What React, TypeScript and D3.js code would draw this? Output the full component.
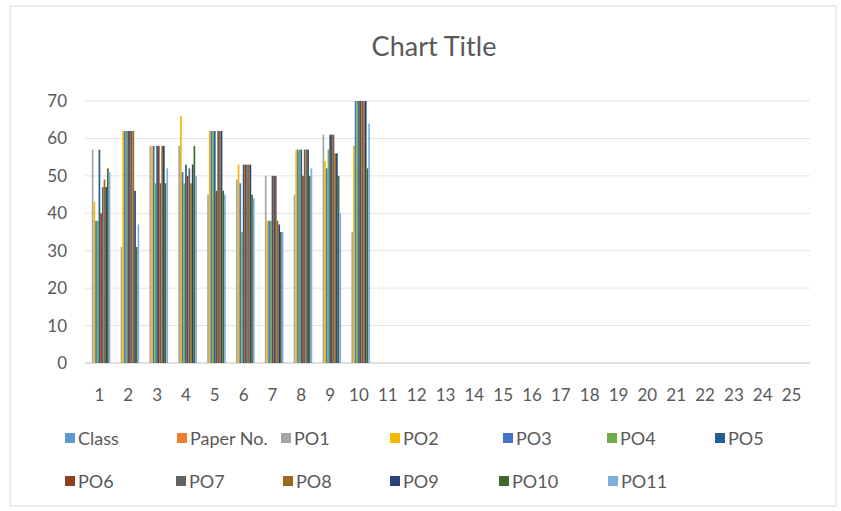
import React from "react";
import * as d3 from "d3";

const categories: string[] = Array.from({ length: 25 }, (_, i) => String(i + 1));
const seriesNames: string[] = ["Class", "Paper No.", "PO1", "PO2", "PO3", "PO4", "PO5", "PO6", "PO7", "PO8", "PO9", "PO10", "PO11"];
const seriesColors: string[] = ["#5b9bd5", "#ed7d31", "#a5a5a5", "#f5b800", "#4472c4", "#70ad47", "#255e91", "#8e3f1e", "#636363", "#9a6a1e", "#264478", "#43682b", "#7cafdd"];

// values for categories 1..10 (rest empty)
const classVals = [0, 0, 0, 0, 0, 0, 0, 0, 0, 0];
const paperVals = [0, 0, 0, 0, 0, 0, 0, 0, 0, 0];
const po1 = [57, 31, 58, 58, 45, 49, 50, 45, 61, 35];
const po2 = [43, 62, 58, 66, 62, 53, 38, 57, 54, 58];
const po3 = [38, 62, 58, 51, 62, 48, 38, 57, 52, 70];
const po4 = [38, 62, 48, 48, 62, 35, 38, 57, 57, 70];
const po5 = [57, 62, 58, 53, 62, 53, 50, 57, 61, 70];
const po6 = [40, 62, 58, 50, 46, 53, 50, 50, 61, 70];
const po7 = [47, 62, 48, 52, 62, 53, 50, 57, 61, 70];
const po8 = [49, 62, 58, 48, 62, 53, 38, 57, 56, 70];
const po9 = [47, 46, 58, 53, 62, 53, 37, 57, 56, 70];
const po10 = [52, 31, 48, 58, 46, 45, 35, 50, 50, 52];
const po11 = [51, 37, 52, 50, 45, 44, 35, 52, 40, 64];
const seriesValues: number[][] = [classVals, paperVals, po1, po2, po3, po4, po5, po6, po7, po8, po9, po10, po11];

const yTicks = [0, 10, 20, 30, 40, 50, 60, 70];

const legendRows: { name: string; x: number; row: number }[] = [
  { name: "Class", x: 65, row: 0 },
  { name: "Paper No.", x: 177, row: 0 },
  { name: "PO1", x: 281, row: 0 },
  { name: "PO2", x: 390, row: 0 },
  { name: "PO3", x: 503, row: 0 },
  { name: "PO4", x: 607, row: 0 },
  { name: "PO5", x: 715, row: 0 },
  { name: "PO6", x: 65, row: 1 },
  { name: "PO7", x: 176, row: 1 },
  { name: "PO8", x: 283, row: 1 },
  { name: "PO9", x: 390, row: 1 },
  { name: "PO10", x: 499, row: 1 },
  { name: "PO11", x: 608, row: 1 },
];

const FONT = "Lato, 'Open Sans', sans-serif";

export default function App() {
  const W = 841, H = 511;
  const plotLeft = 85, plotRight = 806, plotTop = 101, plotBottom = 363;
  const x = d3.scaleBand<string>().domain(categories).range([plotLeft, plotRight]).paddingInner(0.24).paddingOuter(0.12);
  const xs = d3.scaleBand<string>().domain(seriesNames).range([0, x.bandwidth()]);
  const y = d3.scaleLinear().domain([0, 70]).range([plotBottom, plotTop]);
  const legendY = [439, 482];

  return (
    <svg width={W} height={H} style={{ position: "absolute", left: 0, top: 0, background: "#fff" }}>
      <rect x={0} y={0} width={W} height={H} fill="#fff" />
      <rect x={10} y={6} width={826} height={500} fill="#fff" stroke="#d9d9d9" strokeWidth={1} />
      <text x={434} y={56} textAnchor="middle" fontFamily={FONT} fontSize={27} fill="#595959">Chart Title</text>
      {yTicks.map((t) => (
        <g key={t}>
          <line x1={plotLeft} x2={810} y1={y(t)} y2={y(t)} stroke={t === 0 ? "#bfbfbf" : "#e3e3e3"} strokeWidth={1} />
          <text x={67} y={y(t) + 6} textAnchor="end" fontFamily={FONT} fontSize={17} fill="#595959">{t}</text>
        </g>
      ))}
      {seriesValues.map((vals, si) => (
        <g key={si} fill={seriesColors[si]}>
          {vals.map((v, ci) => (
            <rect key={ci} x={(x(categories[ci]) ?? 0) + (xs(seriesNames[si]) ?? 0)} y={y(v)} width={xs.bandwidth()} height={y(0) - y(v)} />
          ))}
        </g>
      ))}
      {categories.map((c) => (
        <text key={c} x={(x(c) ?? 0) + x.bandwidth() / 2} y={401} textAnchor="middle" fontFamily={FONT} fontSize={17} fill="#595959">{c}</text>
      ))}
      {legendRows.map((l) => {
        const si = seriesNames.indexOf(l.name);
        const cy = legendY[l.row];
        return (
          <g key={l.name}>
            <rect x={l.x} y={cy - 6} width={10} height={10} fill={seriesColors[si]} />
            <text x={l.x + 13} y={cy + 6} fontFamily={FONT} fontSize={18} fill="#595959">{l.name}</text>
          </g>
        );
      })}
    </svg>
  );
}
